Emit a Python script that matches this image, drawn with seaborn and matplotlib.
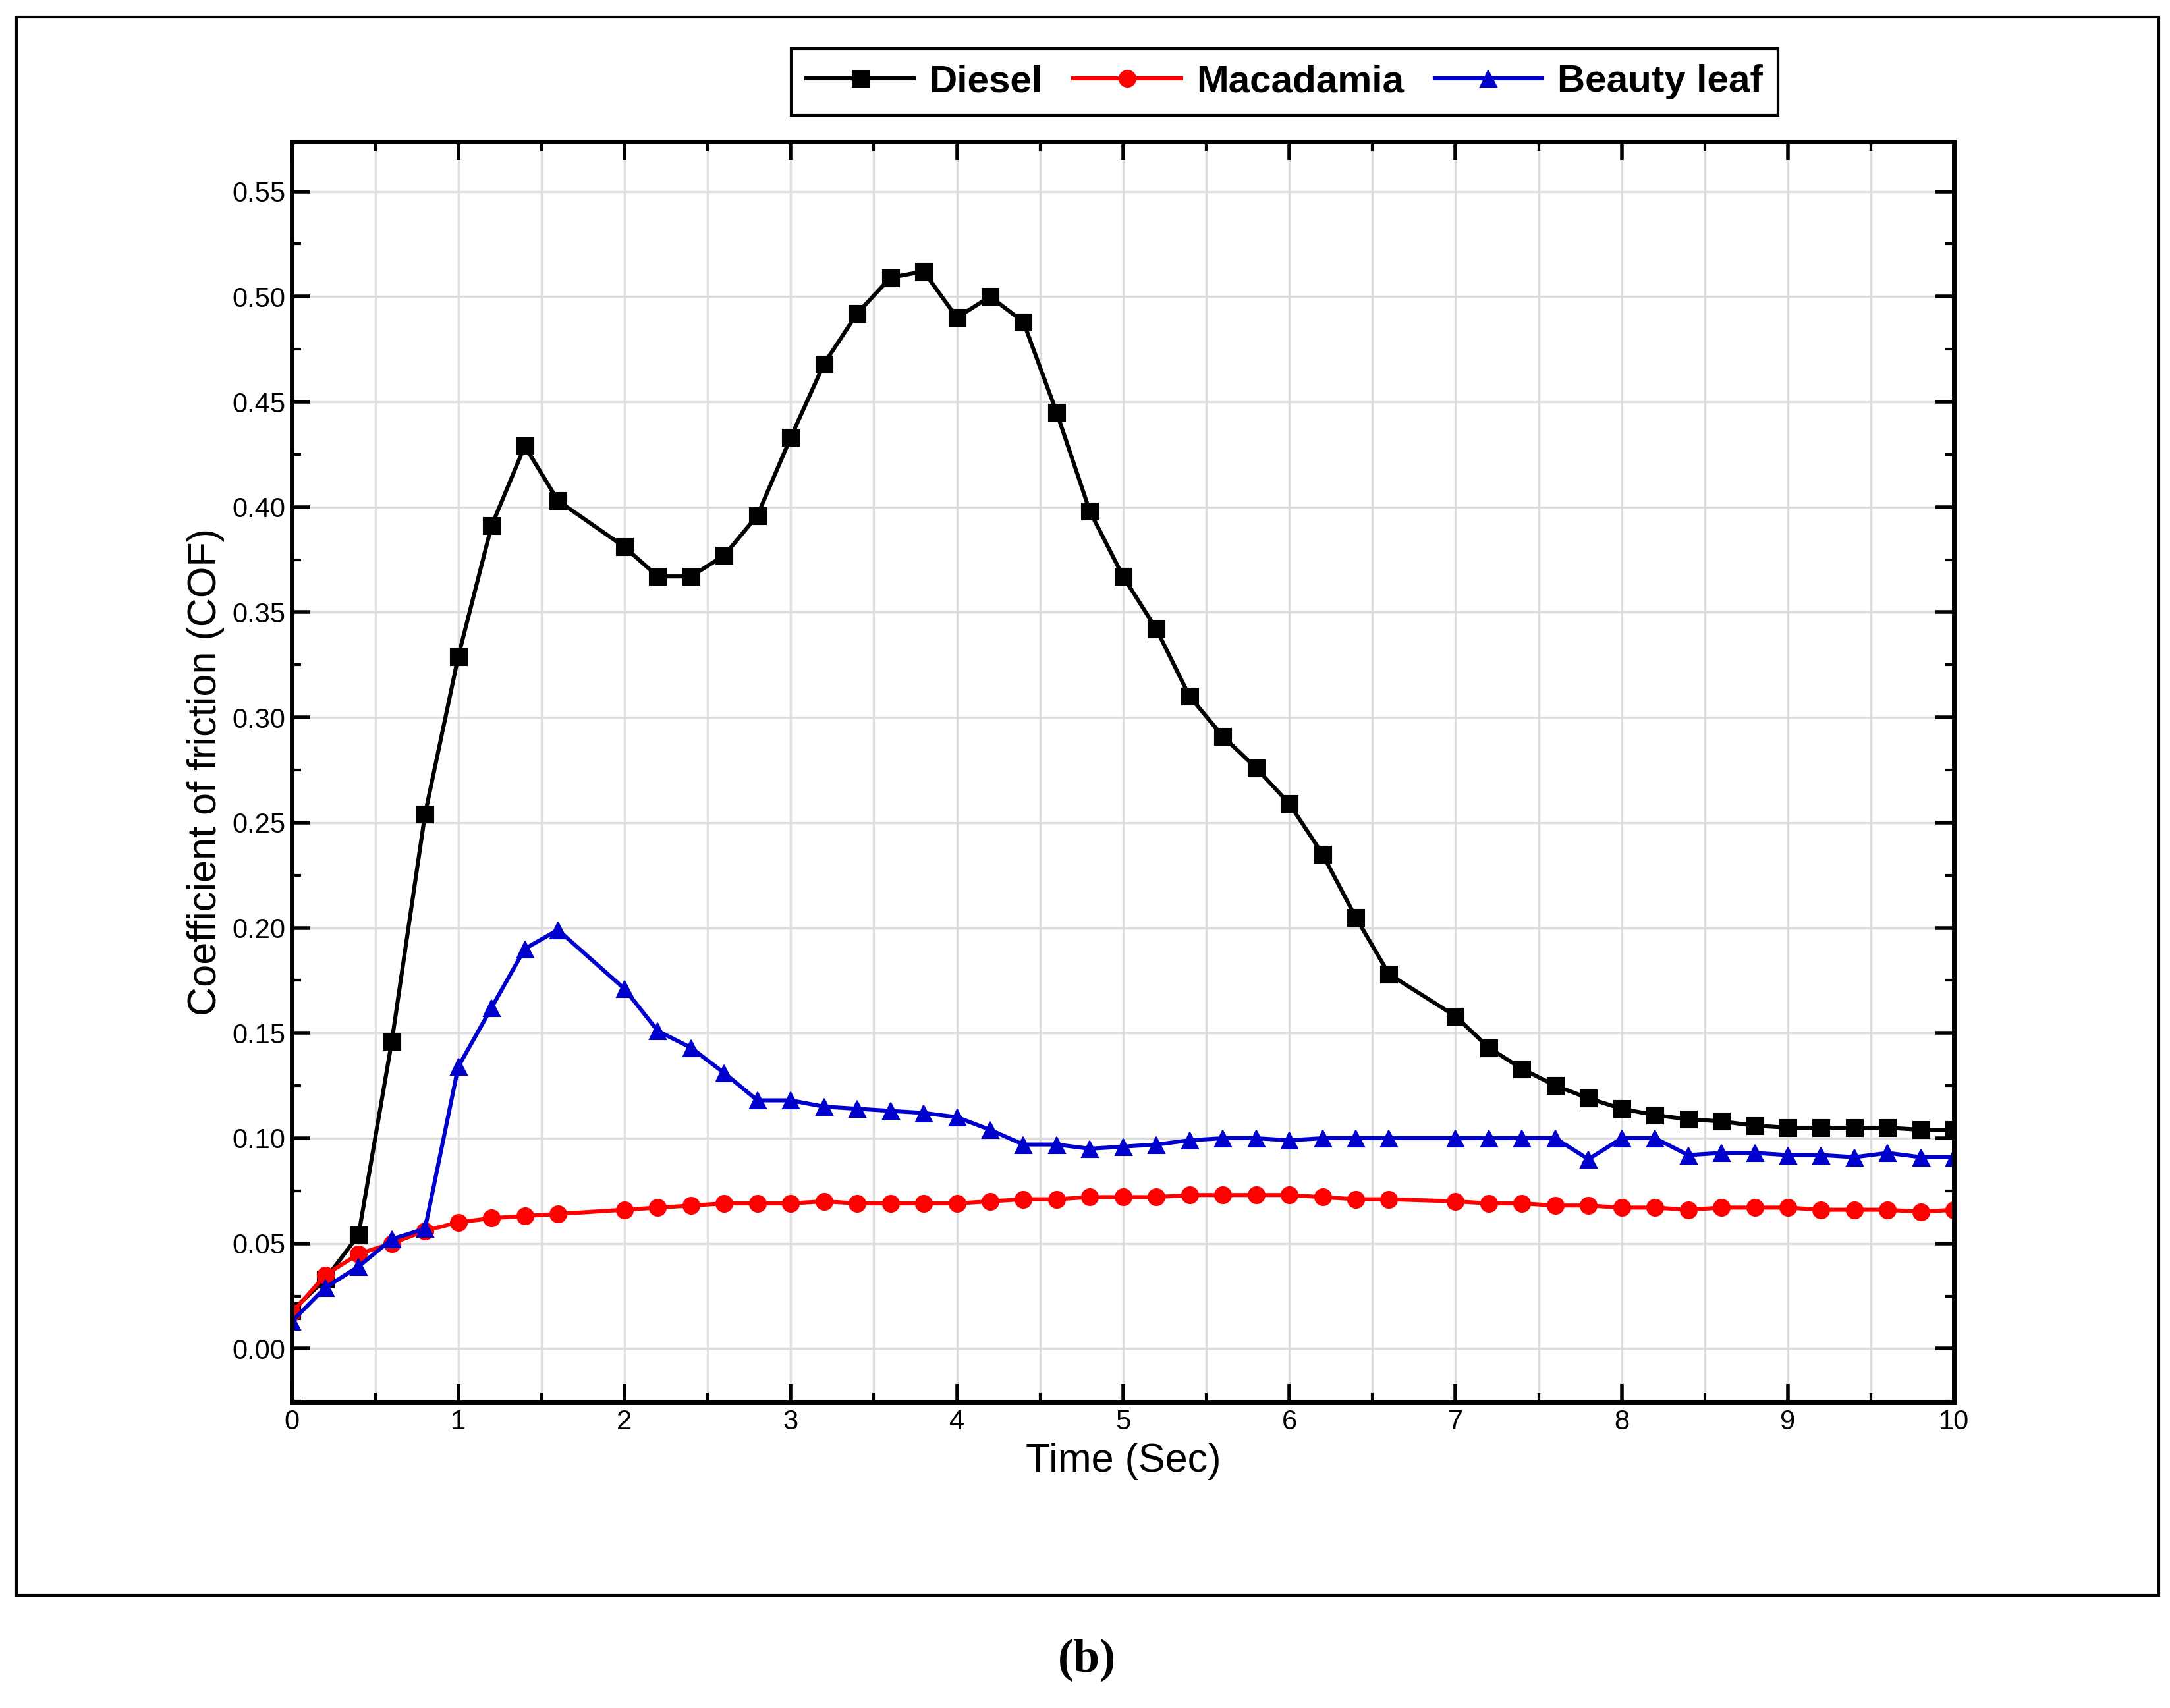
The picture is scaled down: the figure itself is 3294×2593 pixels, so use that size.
import numpy as np
import pandas as pd
import matplotlib
matplotlib.use("Agg")
import matplotlib.pyplot as plt
import seaborn as sns
from matplotlib.ticker import MultipleLocator

# 时间点 (0.2 s 间隔, 缺 1.8 和 6.8)
time_s = [0.0, 0.2, 0.4, 0.6, 0.8, 1.0, 1.2, 1.4, 1.6, 2.0, 2.2, 2.4, 2.6, 2.8,
          3.0, 3.2, 3.4, 3.6, 3.8, 4.0, 4.2, 4.4, 4.6, 4.8, 5.0, 5.2, 5.4, 5.6,
          5.8, 6.0, 6.2, 6.4, 6.6, 7.0, 7.2, 7.4, 7.6, 7.8, 8.0, 8.2, 8.4, 8.6,
          8.8, 9.0, 9.2, 9.4, 9.6, 9.8, 10.0]

diesel = [0.018, 0.033, 0.054, 0.146, 0.254, 0.329, 0.391, 0.429, 0.403, 0.381,
          0.367, 0.367, 0.377, 0.396, 0.433, 0.468, 0.492, 0.509, 0.512, 0.490,
          0.500, 0.488, 0.445, 0.398, 0.367, 0.342, 0.310, 0.291, 0.276, 0.259,
          0.235, 0.205, 0.178, 0.158, 0.143, 0.133, 0.125, 0.119, 0.114, 0.111,
          0.109, 0.108, 0.106, 0.105, 0.105, 0.105, 0.105, 0.104, 0.104]

macadamia = [0.017, 0.035, 0.045, 0.050, 0.056, 0.060, 0.062, 0.063, 0.064, 0.066,
             0.067, 0.068, 0.069, 0.069, 0.069, 0.070, 0.069, 0.069, 0.069, 0.069,
             0.070, 0.071, 0.071, 0.072, 0.072, 0.072, 0.073, 0.073, 0.073, 0.073,
             0.072, 0.071, 0.071, 0.070, 0.069, 0.069, 0.068, 0.068, 0.067, 0.067,
             0.066, 0.067, 0.067, 0.067, 0.066, 0.066, 0.066, 0.065, 0.066]

beauty_leaf = [0.013, 0.029, 0.039, 0.052, 0.057, 0.134, 0.162, 0.190, 0.199, 0.171,
               0.151, 0.143, 0.131, 0.118, 0.118, 0.115, 0.114, 0.113, 0.112, 0.110,
               0.104, 0.097, 0.097, 0.095, 0.096, 0.097, 0.099, 0.100, 0.100, 0.099,
               0.100, 0.100, 0.100, 0.100, 0.100, 0.100, 0.100, 0.090, 0.100, 0.100,
               0.092, 0.093, 0.093, 0.092, 0.092, 0.091, 0.093, 0.091, 0.091]

series = [("Diesel", diesel, "black", "s"),
          ("Macadamia", macadamia, "#ff0000", "o"),
          ("Beauty leaf", beauty_leaf, "#0000cc", "^")]

plt.rcParams["font.family"] = "Liberation Sans"
fig = plt.figure(figsize=(16.47, 12.965), dpi=200)
ax = fig.add_axes([0.1346, 0.179, 0.7659, 0.738])

for name, vals, color, marker in series:
    sns.lineplot(x=time_s, y=vals, ax=ax, color=color, marker=marker,
                 markersize=9, markeredgecolor=color, linewidth=2.2, label=name)

ax.set_xlim(0, 10)
ax.set_ylim(-0.0255, 0.5736)
ax.xaxis.set_major_locator(MultipleLocator(1))
ax.xaxis.set_minor_locator(MultipleLocator(0.5))
ax.yaxis.set_major_locator(MultipleLocator(0.05))
ax.yaxis.set_minor_locator(MultipleLocator(0.025))
ax.yaxis.set_major_formatter(matplotlib.ticker.FormatStrFormatter("%.2f"))
ax.grid(True, which="both", axis="x", color="#dddddd", linewidth=1.2)
ax.grid(True, which="major", axis="y", color="#dddddd", linewidth=1.2)
ax.tick_params(which="both", direction="in", top=True, right=True, labelsize=15)
ax.tick_params(which="major", length=10, width=2)
ax.tick_params(which="minor", length=5, width=1.5)
for s in ax.spines.values():
    s.set_linewidth(2.5)
ax.set_xlabel("Time (Sec)", fontsize=22)
ax.set_ylabel("Coefficient of friction (COF)", fontsize=22)

ax.get_legend().remove()
handles, labels = ax.get_legend_handles_labels()
leg = fig.legend(handles, labels, loc="center", bbox_to_anchor=(0.592, 0.952), ncol=3,
                 fancybox=False, edgecolor="black", framealpha=1, handlelength=2.8,
                 prop={"weight": "bold", "size": 21}, columnspacing=0.8, handletextpad=0.4)
leg.get_frame().set_linewidth(1.5)

fig.patches.append(plt.Rectangle((0.0077, 0.066), 0.987, 0.924, transform=fig.transFigure,
                                 fill=False, edgecolor="black", linewidth=1.5))
fig.text(0.501, 0.028, "(b)", ha="center", va="center", fontsize=26,
         fontweight="bold", family="Liberation Serif")

fig.savefig("out.png", dpi=200)
